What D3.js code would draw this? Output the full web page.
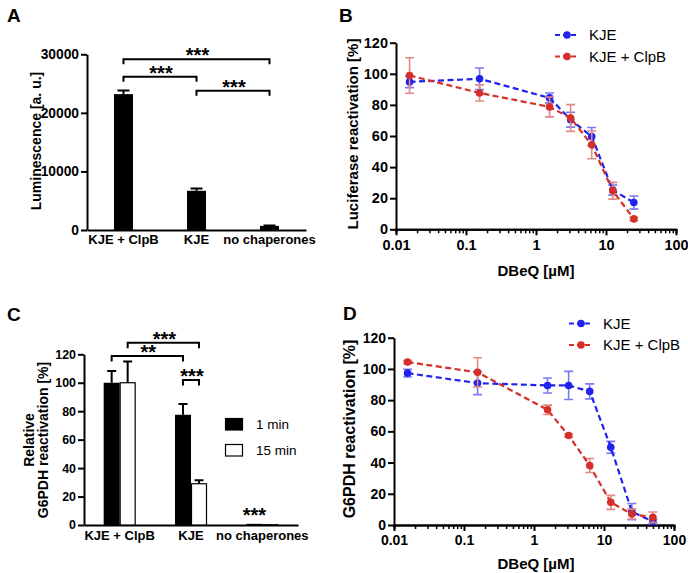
<!DOCTYPE html>
<html>
<head>
<meta charset="utf-8">
<script src="https://cdn.jsdelivr.net/npm/d3@7"></script>
<style>
  html, body { margin: 0; padding: 0; background: #fff; }
  svg { display: block; font-family: "Liberation Sans", Arial, sans-serif; }
</style>
</head>
<body>
<svg id="chart" width="688" height="573"></svg>
<script>
// ---------------- DATA ----------------
// Panel A
const catA = ["KJE + ClpB", "KJE", "no chaperones"];
const lumValues = [23200, 6700, 700];
const lumErrors = [600, 400, 80];
const lumTicks = [0, 10000, 20000, 30000];

// Panel B (luciferase)
const concB = [0.015625, 0.15625, 1.5625, 3.125, 6.25, 12.5, 25];
const lucKJE = [94.8, 96.8, 84.5, 70.5, 59.7, 25.2, 17.2];
const lucKJEErr = [3.7, 6.9, 3.2, 4.8, 5.8, 3.2, 4.2];
const lucClpB = [98.9, 87.7, 78.7, 71.6, 54.3, 24.8, 6.7];
const lucClpBErr = [11.4, 5.2, 6.4, 8.6, 8.9, 5.4, 1.0];

// Panel C (G6PDH bars)
const catC = ["KJE + ClpB", "KJE", "no chaperones"];
const seriesC = ["1 min", "15 min"];
const g6p1min = [100, 77.5, 0.8];
const g6p1minErr = [8.3, 7.5, 0.2];
const g6p15min = [100, 29, 0.2];
const g6p15minErr = [15, 2.5, 0];

// Panel D (G6PDH vs DBeQ)
const concD = [0.015625, 0.15625, 1.5625, 3.125, 6.25, 12.5, 25, 50];
const g6KJE = [97.3, 90.9, 89.4, 89.4, 85.6, 49.8, 8.6, 2.1];
const g6KJEErr = [2.5, 7.4, 4.8, 9.0, 4.8, 3.8, 5.2, 1.5];
const g6ClpB = [104.4, 97.8, 73.8, 57.3, 38.1, 14.5, 7.0, 4.9];
const g6ClpBErr = [1.0, 9.4, 3.0, 1.0, 4.5, 4.5, 3.2, 3.4];

const pctTicks = [0, 20, 40, 60, 80, 100, 120];
const logTicks = [0.01, 0.1, 1, 10, 100];
const logTickLabels = ["0.01", "0.1", "1", "10", "100"];
const lineSeries = ["KJE", "KJE + ClpB"];

// significance annotations: [from index, to index, level (data units), stars]
const sigA = [[0, 2, 29140, "***"], [0, 1, 26170, "***"], [1, 2, 23780, "***"]];
// for C: [cat, series, cat, series, level, stars]
const sigC = [[0, 1, 1, 1, 128.2, "***"], [0, 0, 1, 0, 118.8, "**"], [1, 0, 1, 1, 101.9, "***"]];

// ---------------- STYLE ----------------
const BLUE = "#2222ee", RED = "#d42f28";
const BLUE_ERR = "#7b7bf2", RED_ERR = "#e38984";
const FONT = '"Liberation Sans", Arial, sans-serif';

const svg = d3.select("#chart");

function styleAxis(g, size) {
  g.selectAll("path.domain").attr("stroke", "#000").attr("stroke-width", 2);
  g.selectAll(".tick line").attr("stroke", "#000").attr("stroke-width", 2);
  g.selectAll(".tick text").attr("fill", "#000").style("font-family", FONT)
    .style("font-weight", "bold").style("font-size", size + "px");
}

function panelLetter(txt, x, y) {
  svg.append("text").attr("x", x).attr("y", y).text(txt)
    .style("font-family", FONT).style("font-weight", "bold").style("font-size", "19px");
}

function yTitle(lines, x, y, size, lh) {
  const t = svg.append("text")
    .attr("transform", `translate(${x},${y}) rotate(-90)`)
    .attr("text-anchor", "middle")
    .style("font-family", FONT).style("font-weight", "bold").style("font-size", size + "px");
  const n = lines.length;
  lines.forEach((l, i) => {
    t.append("tspan").attr("x", 0).attr("y", (i - (n - 1) / 2) * lh).attr("dy", "0.35em").text(l);
  });
}

function stars(x, yLine, txt, size) {
  svg.append("text").attr("x", x).attr("y", yLine + 3).attr("text-anchor", "middle")
    .text(txt).style("font-family", FONT).style("font-weight", "bold").style("font-size", size + "px");
}

function bracket(x1, x2, y, drop, txt, size) {
  svg.append("path")
    .attr("d", `M${x1},${y + drop}V${y}H${x2}V${y + drop}`)
    .attr("fill", "none").attr("stroke", "#000").attr("stroke-width", 2);
  stars((x1 + x2) / 2 + 1, y, txt, size);
}

// ---------------- PANEL A ----------------
panelLetter("A", 7, 21.7);
{
  const x = d3.scaleBand().domain(catA).range([87, 306]);
  const y = d3.scaleLinear().domain([0, 30000]).range([230, 54.3]);
  const bw = 19;
  const gy = svg.append("g").attr("transform", "translate(87,0)")
    .call(d3.axisLeft(y).tickValues(lumTicks).tickFormat(d3.format("d")).tickSize(6).tickSizeOuter(0).tickPadding(2));
  styleAxis(gy, 13.8);
  const gx = svg.append("g").attr("transform", "translate(0,230)")
    .call(d3.axisBottom(x).tickSize(0).tickSizeOuter(0).tickPadding(5));
  styleAxis(gx, 13);
  // error bars
  catA.forEach((c, i) => {
    const cx = x(c) + x.bandwidth() / 2;
    svg.append("path")
      .attr("d", `M${cx},${y(lumValues[i])}V${y(lumValues[i] + lumErrors[i])}M${cx - 6},${y(lumValues[i] + lumErrors[i])}H${cx + 6}`)
      .attr("stroke", "#000").attr("stroke-width", 2).attr("fill", "none");
  });
  svg.append("g").selectAll("rect").data(catA).join("rect")
    .attr("x", d => x(d) + x.bandwidth() / 2 - bw / 2)
    .attr("y", (d, i) => y(lumValues[i]))
    .attr("width", bw)
    .attr("height", (d, i) => y(0) - y(lumValues[i]))
    .attr("fill", "#000");
  yTitle(["Luminescence [a. u.]"], 36, 141, 14, 0);
  sigA.forEach(s => {
    const x1 = x(catA[s[0]]) + x.bandwidth() / 2;
    const x2 = x(catA[s[1]]) + x.bandwidth() / 2;
    bracket(x1, x2, y(s[2]), 5, s[3], 20);
  });
}

// ---------------- line panels ----------------
function linePanel(opt) {
  const x = d3.scaleLog().domain([0.01, 100]).range(opt.xr);
  const y = d3.scaleLinear().domain([0, 120]).range(opt.yr);
  const y0 = opt.yr[0];
  // minor ticks
  const minor = [];
  [0.01, 0.1, 1, 10].forEach(dcd => { for (let k = 2; k <= 9; k++) minor.push(dcd * k); });
  const gm = svg.append("g").attr("transform", `translate(0,${y0})`)
    .call(d3.axisBottom(x).tickValues(minor).tickSize(4).tickFormat(""));
  styleAxis(gm, opt.tick);
  gm.selectAll(".tick line").attr("stroke-width", 1.5);
  const gx = svg.append("g").attr("transform", `translate(0,${y0})`)
    .call(d3.axisBottom(x).tickValues(logTicks).tickFormat((d, i) => logTickLabels[i]).tickSize(6).tickSizeOuter(0).tickPadding(4));
  styleAxis(gx, opt.tick);
  const gy = svg.append("g").attr("transform", `translate(${opt.xr[0]},0)`)
    .call(d3.axisLeft(y).tickValues(pctTicks).tickSize(6).tickSizeOuter(0).tickPadding(2));
  styleAxis(gy, opt.tick);

  const sets = [
    { name: lineSeries[0], vals: opt.kje, err: opt.kjeErr, col: BLUE, ecol: BLUE_ERR },
    { name: lineSeries[1], vals: opt.clpb, err: opt.clpbErr, col: RED, ecol: RED_ERR }
  ];
  const line = d3.line().x(d => x(d[0])).y(d => y(d[1]));
  sets.forEach(s => {
    const pts = opt.conc.map((c, i) => [c, s.vals[i], s.err[i]]);
    const g = svg.append("g");
    g.selectAll("path.err").data(pts).join("path").attr("class", "err")
      .attr("d", d => {
        const cx = x(d[0]), t = y(d[1] + d[2]), b = y(d[1] - d[2]);
        return `M${cx},${t}V${b}M${cx - 4.5},${t}H${cx + 4.5}M${cx - 4.5},${b}H${cx + 4.5}`;
      })
      .attr("stroke", s.ecol).attr("stroke-width", 1.6).attr("fill", "none");
    g.append("path").datum(pts).attr("d", line)
      .attr("fill", "none").attr("stroke", s.col).attr("stroke-width", 2.2).attr("stroke-dasharray", "6,3.5");
    g.selectAll("circle").data(pts).join("circle")
      .attr("cx", d => x(d[0])).attr("cy", d => y(d[1])).attr("r", 3.8).attr("fill", s.col);
  });
  // legend
  sets.forEach((s, i) => {
    const ly = opt.leg[1] + i * 21.5;
    const lx = opt.leg[0];
    svg.append("line").attr("x1", lx).attr("x2", lx + 24).attr("y1", ly).attr("y2", ly)
      .attr("stroke", s.col).attr("stroke-width", 2.2).attr("stroke-dasharray", "5,3");
    svg.append("circle").attr("cx", lx + 12).attr("cy", ly).attr("r", 3.8).attr("fill", s.col);
    svg.append("text").attr("x", lx + 34).attr("y", ly).attr("dy", "0.35em").text(s.name)
      .style("font-family", FONT).style("font-size", "15px");
  });
  yTitle([opt.ytitle], opt.yt[0], opt.yt[1], opt.ytSize, 0);
  svg.append("text").attr("x", 536).attr("y", opt.xt).attr("dy", "0.35em").attr("text-anchor", "middle")
    .text("DBeQ [µM]").style("font-family", FONT).style("font-weight", "bold").style("font-size", "15px");
}

// ---------------- PANEL B ----------------
panelLetter("B", 339, 21.7);
linePanel({
  xr: [396, 676], yr: [229.3, 42.7], conc: concB,
  kje: lucKJE, kjeErr: lucKJEErr, clpb: lucClpB, clpbErr: lucClpBErr,
  leg: [555, 35], ytitle: "Luciferase reactivation [%]", yt: [353, 134], ytSize: 15, xt: 270.7, tick: 14.5
});

// ---------------- PANEL C ----------------
panelLetter("C", 7, 321);
{
  const x = d3.scaleBand().domain(catC).range([84, 298]);
  const xs = d3.scaleBand().domain(seriesC).range([0, 32]);
  const y = d3.scaleLinear().domain([0, 120]).range([525, 354.3]);
  const off = x.bandwidth() / 2 - 16;
  const gy = svg.append("g").attr("transform", "translate(84,0)")
    .call(d3.axisLeft(y).tickValues(pctTicks).tickSize(6).tickSizeOuter(0).tickPadding(2));
  styleAxis(gy, 12.4);
  const gx = svg.append("g").attr("transform", "translate(0,525)")
    .call(d3.axisBottom(x).tickSize(0).tickSizeOuter(0).tickPadding(6));
  styleAxis(gx, 13);
  const vals = [g6p1min, g6p15min], errs = [g6p1minErr, g6p15minErr];
  const fills = ["#000", "#fff"];
  seriesC.forEach((s, si) => {
    catC.forEach((c, ci) => {
      const bx = x(c) + off + xs(s);
      const cx = bx + xs.bandwidth() / 2;
      const v = vals[si][ci], e = errs[si][ci];
      if (e > 0.5) {
        svg.append("path")
          .attr("d", `M${cx},${y(v)}V${y(v + e)}M${cx - 4.5},${y(v + e)}H${cx + 4.5}`)
          .attr("stroke", "#000").attr("stroke-width", 2).attr("fill", "none");
      }
      svg.append("rect").attr("x", bx + (si ? 0.5 : 0)).attr("y", y(v))
        .attr("width", xs.bandwidth() - (si ? 1 : 0)).attr("height", y(0) - y(v))
        .attr("fill", fills[si]).attr("stroke", "#000").attr("stroke-width", si ? 1.2 : 0);
    });
  });
  sigC.forEach(s => {
    const x1 = x(catC[s[0]]) + off + xs(seriesC[s[1]]) + xs.bandwidth() / 2;
    const x2 = x(catC[s[2]]) + off + xs(seriesC[s[3]]) + xs.bandwidth() / 2;
    bracket(x1, x2, y(s[4]), 5.5, s[5], 20);
  });
  // no chaperones significance
  stars(x(catC[2]) + off + xs(seriesC[0]) + xs.bandwidth() / 2, y(g6p1min[2]) - 5, "***", 20);
  // legend
  seriesC.forEach((s, i) => {
    const ly = 418.5 + i * 26;
    svg.append("rect").attr("x", 225.5).attr("y", ly).attr("width", 17).attr("height", 11.5)
      .attr("fill", fills[i]).attr("stroke", "#000").attr("stroke-width", 1.2);
    svg.append("text").attr("x", 256).attr("y", ly + 6).attr("dy", "0.35em").text(s)
      .style("font-family", FONT).style("font-size", "13.5px");
  });
  yTitle(["Relative", "G6PDH reactivation [%]"], 36, 440, 14, 13.5);
}

// ---------------- PANEL D ----------------
panelLetter("D", 343, 320);
linePanel({
  xr: [394, 674], yr: [525, 337.7], conc: concD,
  kje: g6KJE, kjeErr: g6KJEErr, clpb: g6ClpB, clpbErr: g6ClpBErr,
  leg: [569, 323.5], ytitle: "G6PDH reactivation [%]", yt: [349, 429], ytSize: 16, xt: 563.3, tick: 14
});
</script>
</body>
</html>
